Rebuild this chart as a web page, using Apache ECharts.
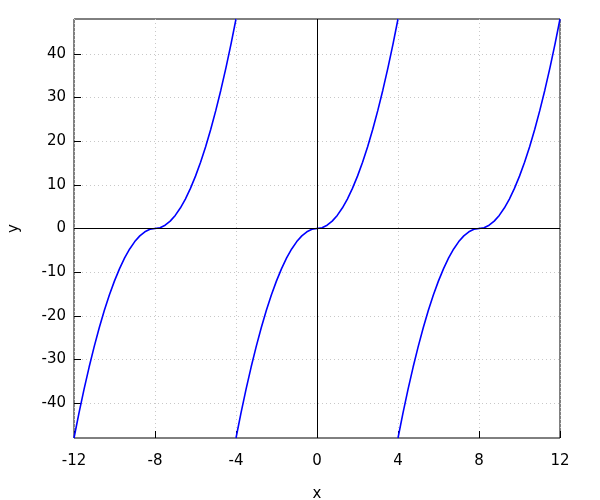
<!DOCTYPE html>
<html>
<head>
<meta charset="utf-8">
<script src="https://cdn.jsdelivr.net/npm/echarts@6/dist/echarts.min.js"></script>
<style>html,body{margin:0;padding:0;background:#fff}#c{width:600px;height:500px}</style>
</head>
<body>
<div id="c"></div>
<script>
// x positions for the three branches
var xBranch1 = [-12,-11.75,-11.5,-11.25,-11,-10.75,-10.5,-10.25,-10,-9.75,-9.5,-9.25,-9,-8.75,-8.5,-8.25,-8,-7.75,-7.5,-7.25,-7,-6.75,-6.5,-6.25,-6,-5.75,-5.5,-5.25,-5,-4.75,-4.5,-4.25,-4];
var xBranch2 = [-4,-3.75,-3.5,-3.25,-3,-2.75,-2.5,-2.25,-2,-1.75,-1.5,-1.25,-1,-0.75,-0.5,-0.25,0,0.25,0.5,0.75,1,1.25,1.5,1.75,2,2.25,2.5,2.75,3,3.25,3.5,3.75,4];
var xBranch3 = [4,4.25,4.5,4.75,5,5.25,5.5,5.75,6,6.25,6.5,6.75,7,7.25,7.5,7.75,8,8.25,8.5,8.75,9,9.25,9.5,9.75,10,10.25,10.5,10.75,11,11.25,11.5,11.75,12];
// y values along each branch (same shape repeated)
var yBranch = [-48,-42.19,-36.75,-31.69,-27,-22.69,-18.75,-15.19,-12,-9.19,-6.75,-4.69,-3,-1.69,-0.75,-0.19,0,0.19,0.75,1.69,3,4.69,6.75,9.19,12,15.19,18.75,22.69,27,31.69,36.75,42.19,48];
var xTicks = [-12,-8,-4,0,4,8,12];
var yTicks = [-40,-30,-20,-10,0,10,20,30,40];

function pair(xs, ys){ return xs.map(function(x,i){ return [x, ys[i]]; }); }

var font = 'DejaVu Sans';
var chart = echarts.init(document.getElementById('c'), null, {renderer:'canvas'});
var lineStyle = {color:'#0000ff', width:1.6};
function branch(xs){
  return {type:'line', data:pair(xs,yBranch), showSymbol:false, symbol:'none', smooth:false,
          lineStyle:lineStyle, clip:true, silent:true, animation:false};
}
var s1 = branch(xBranch2);
s1.markLine = {silent:true, symbol:'none', label:{show:false}, animation:false,
  lineStyle:{color:'#000', width:1, type:'solid'},
  data:[{xAxis:0},{yAxis:0}]};
chart.setOption({
  animation:false,
  backgroundColor:'#fff',
  grid:{left:74, right:40, top:19, bottom:62, outerBoundsMode:'none', containLabel:false,
        show:true, borderColor:'#000', borderWidth:1, backgroundColor:'transparent'},
  xAxis:{type:'value', min:-12, max:12, interval:4,
    name:'x', nameLocation:'middle', nameGap:49, nameTextStyle:{color:'#000', fontFamily:font, fontSize:15},
    axisLine:{show:false, onZero:false},
    axisTick:{show:true, inside:true, length:7, lineStyle:{color:'#000'}},
    axisLabel:{color:'#000', fontFamily:font, fontSize:15, margin:16},
    splitLine:{show:true, lineStyle:{color:'#c8c8c8', type:[1,3], width:1}}
  },
  yAxis:{type:'value', min:-48, max:48,
    name:'y', nameLocation:'middle', nameGap:52, nameRotate:90, nameTextStyle:{color:'#000', fontFamily:font, fontSize:15},
    axisLine:{show:false, onZero:false},
    axisTick:{show:true, inside:true, length:7, lineStyle:{color:'#000'}, customValues:yTicks},
    axisLabel:{color:'#000', fontFamily:font, fontSize:15, margin:8, customValues:yTicks},
    splitLine:{show:true, lineStyle:{color:'#c8c8c8', type:[1,3], width:1}}
  },
  series:[branch(xBranch1), s1, branch(xBranch3)]
});
</script>
</body>
</html>
